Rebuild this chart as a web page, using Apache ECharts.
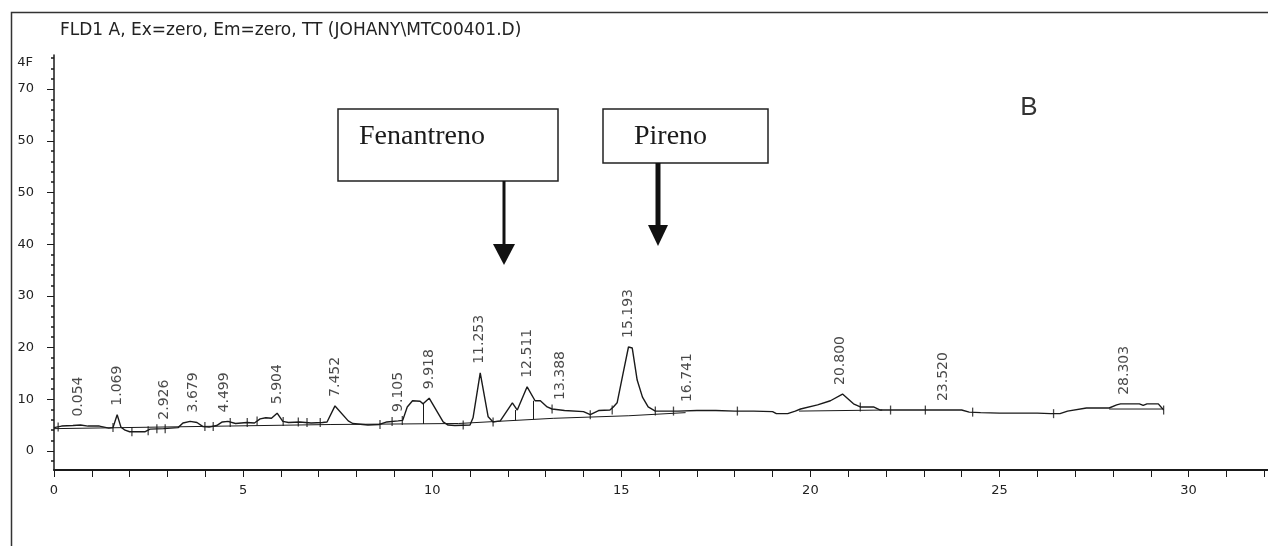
<!DOCTYPE html>
<html>
<head>
<meta charset="utf-8">
<script src="https://cdn.jsdelivr.net/npm/echarts@6/dist/echarts.min.js"></script>
<style>
html,body{margin:0;padding:0;background:#fff;}
#chart{width:1268px;height:546px;}
</style>
</head>
<body>
<div id="chart"></div>
<script>
// ---- data ----
const chartTitle = 'FLD1 A, Ex=zero, Em=zero, TT (JOHANY\\MTC00401.D)';
const yUnitLabel = '4F';
const panelLetter = 'B';
const annotationTexts = ['Fenantreno', 'Pireno'];

const xTickLabels = [0, 5, 10, 15, 20, 25, 30];
const xMinorTicks = [0,1,2,3,4,5,6,7,8,9,10,11,12,13,14,15,16,17,18,19,20,21,22,23,24,25,26,27,28,29,30,31,32];
const yTickValues = [0, 10, 20, 30, 40, 50, 60, 70];
const yTickLabels = ['0', '10', '20', '30', '40', '50', '50', '70'];
const yMinorTicks = [-2,2,4,6,8,12,14,16,18,22,24,26,28,32,34,36,38,42,44,46,48,52,54,56,58,62,64,66,68,72,74,76];

const traceTime = [0.0,0.2,0.5,0.7,0.9,1.2,1.45,1.56,1.67,1.77,1.88,2.0,2.4,2.54,2.9,3.28,3.41,3.6,3.78,3.94,
  4.1,4.3,4.45,4.6,4.8,5.1,5.3,5.45,5.6,5.75,5.9,6.05,6.2,6.5,6.8,7.1,7.22,7.43,7.78,7.9,
  8.3,8.6,8.8,9.1,9.22,9.34,9.48,9.68,9.76,9.92,10.29,10.42,10.6,11.0,11.08,11.27,11.48,11.61,11.8,12.12,
  12.25,12.51,12.72,12.86,13.04,13.17,13.5,14.0,14.18,14.4,14.7,14.79,14.89,15.05,15.19,15.29,15.42,15.56,15.71,15.9,
  16.5,17.0,17.5,18.0,18.5,19.0,19.1,19.4,19.6,19.74,20.19,20.53,20.85,21.14,21.32,21.67,21.85,22.5,23.0,23.5,
  24.0,24.2,24.5,25.0,25.5,26.0,26.35,26.6,26.8,27.3,27.9,28.1,28.2,28.7,28.8,28.9,29.2,29.34];
const traceSignal = [4.5,4.8,4.9,5.0,4.8,4.8,4.4,4.5,7.0,4.6,4.0,3.7,3.7,4.2,4.3,4.5,5.4,5.7,5.5,4.7,
  4.6,4.9,5.6,5.7,5.3,5.5,5.4,6.2,6.4,6.3,7.3,5.7,5.5,5.6,5.4,5.5,5.6,8.7,5.8,5.3,
  5.0,5.1,5.6,5.8,5.9,8.5,9.7,9.6,9.1,10.2,5.6,5.0,4.9,5.0,6.4,15.1,6.6,5.6,5.8,9.3,
  7.9,12.4,9.7,9.7,8.5,8.1,7.8,7.6,7.0,7.8,7.9,8.5,9.3,15.1,20.1,19.9,13.7,10.4,8.5,7.7,
  7.7,7.8,7.8,7.7,7.7,7.6,7.2,7.2,7.7,8.1,8.9,9.7,11.0,9.1,8.5,8.5,7.9,7.9,7.9,7.9,
  7.9,7.5,7.4,7.3,7.3,7.3,7.2,7.2,7.7,8.3,8.3,8.9,9.1,9.1,8.8,9.1,9.1,7.9];

// integration baseline segments [time, signal]
const baselineA = [[0.0,4.3],[7.3,5.1],[10.7,5.3],[13.2,6.3],[15.2,6.8],[16.7,7.4]];
const baselineB = [[19.7,7.7],[21.9,7.9]];
const baselineC = [[27.9,8.1],[29.3,8.1]];

// peak start/end tick marks [time, signal]
const peakMarks = [[0.11,4.6],[1.56,4.5],[2.06,3.7],[2.49,3.9],[2.72,4.3],[2.94,4.3],[3.99,4.7],[4.21,4.7],[4.66,5.5],
  [5.11,5.5],[5.37,5.8],[6.06,5.7],[6.46,5.6],[6.69,5.5],[7.04,5.5],[8.62,5.1],[8.94,5.7],[9.21,5.9],[10.82,5.0],
  [11.61,5.6],[13.17,8.1],[14.18,7.0],[14.76,7.9],[15.9,7.7],[16.38,7.7],[18.07,7.7],[21.32,8.5],[22.12,7.9],
  [23.04,7.9],[24.29,7.5],[26.43,7.2],[29.34,7.9]];
// valley drop lines [time, top, bottom]
const dropLines = [[9.76,9.1,5.2],[12.2,7.9,5.9],[12.67,9.7,6.1]];

const peakTimes = [0.654,1.669,2.926,3.679,4.499,5.904,7.452,9.105,9.918,11.253,12.511,13.388,15.193,16.741,20.800,23.520,28.303];
const peakHeights = [4.9,7.0,4.3,5.7,5.7,7.3,8.7,5.8,10.2,15.1,12.4,8.1,20.1,7.7,11.0,7.9,9.1];
const peakLabels = ['0.054','1.069','2.926','3.679','4.499','5.904','7.452','9.105','9.918','11.253','12.511','13.388','15.193','16.741','20.800','23.520','28.303'];

// ---- chart ----
const INK = '#1a1a1a';
const chart = echarts.init(document.getElementById('chart'), null, {renderer: 'canvas'});
const traceData = traceTime.map((t, i) => [t, traceSignal[i]]);
const labelData = peakTimes.map((t, i) => [t, peakHeights[i], peakLabels[i]]);

const X_MIN = 0, X_MAX = 32.1, Y_MIN = -3.7, Y_MAX = 76.6;

const option = {
  animation: false,
  backgroundColor: '#ffffff',
  grid: {left: 54, right: 0, top: 55, bottom: 76},
  xAxis: [{
    type: 'value', min: X_MIN, max: X_MAX, position: 'bottom',
    axisLine: {show: true, onZero: false, lineStyle: {color: INK, width: 2}},
    axisTick: {show: true, customValues: xMinorTicks, length: 7, lineStyle: {color: INK, width: 1}},
    axisLabel: {customValues: xTickLabels, margin: 14, color: '#222', fontSize: 13, fontFamily: 'DejaVu Sans'},
    splitLine: {show: false}
  }],
  yAxis: [{
    type: 'value', min: Y_MIN, max: Y_MAX,
    axisLine: {show: true, onZero: false, lineStyle: {color: INK, width: 1.5}},
    axisTick: {show: true, customValues: yTickValues, length: 7, lineStyle: {color: INK, width: 1}},
    axisLabel: {customValues: yTickValues, margin: 20, color: '#222', fontSize: 13, fontFamily: 'DejaVu Sans',
      formatter: v => yTickLabels[yTickValues.indexOf(v)]},
    splitLine: {show: false}
  }, {
    type: 'value', min: Y_MIN, max: Y_MAX, position: 'left', offset: 0,
    axisLine: {show: false, onZero: false},
    axisTick: {show: true, customValues: yMinorTicks, length: 3, lineStyle: {color: INK, width: 1.5}},
    axisLabel: {show: false},
    splitLine: {show: false}
  }],
  series: [
    {type: 'line', name: 'baselineA', data: baselineA, showSymbol: false, silent: true,
      lineStyle: {color: INK, width: 1}},
    {type: 'line', name: 'baselineB', data: baselineB, showSymbol: false, silent: true,
      lineStyle: {color: INK, width: 1}},
    {type: 'line', name: 'baselineC', data: baselineC, showSymbol: false, silent: true,
      lineStyle: {color: INK, width: 1}},
    {type: 'line', name: 'FLD1 A', data: traceData, showSymbol: false, silent: true,
      lineStyle: {color: INK, width: 1.4},
      markLine: {silent: true, symbol: ['none', 'none'], label: {show: false},
        lineStyle: {color: INK, width: 1, type: 'solid'},
        data: dropLines.map(d => [{coord: [d[0], d[1]]}, {coord: [d[0], d[2]]}])}
    },
    {type: 'scatter', name: 'marks', data: peakMarks, symbol: 'rect', symbolSize: [1.3, 9], silent: true,
      itemStyle: {color: INK}},
    {type: 'scatter', name: 'peaks', data: labelData, symbolSize: 0, silent: true,
      label: {show: true, position: 'top', distance: 9, rotate: 90, align: 'left', verticalAlign: 'middle',
        formatter: p => p.data[2], color: '#1a1a1a', fontSize: 14, fontFamily: 'DejaVu Sans'}}
  ],
  graphic: [
    {type: 'rect', left: 9, top: 10, silent: true,
      shape: {x: 0, y: 0, width: 1400, height: 700},
      style: {fill: 'none', stroke: '#333', lineWidth: 1.5}},
    {type: 'text', x: 60, y: 31, silent: true,
      style: {text: chartTitle, fill: '#222', font: '17px "DejaVu Sans"', textVerticalAlign: 'middle'}},
    {type: 'text', x: 33, y: 63, silent: true,
      style: {text: yUnitLabel, fill: '#222', font: '13px "DejaVu Sans"', textAlign: 'right', textVerticalAlign: 'middle'}},
    {type: 'text', x: 1029, y: 108, silent: true,
      style: {text: panelLetter, fill: '#333', font: '26px "Liberation Sans"', textAlign: 'center', textVerticalAlign: 'middle'}},
    // Fenantreno box + arrow
    {type: 'rect', silent: true, shape: {x: 338, y: 109, width: 220, height: 72},
      style: {fill: '#fff', stroke: '#222', lineWidth: 1.5}},
    {type: 'text', x: 359, y: 137, silent: true,
      style: {text: annotationTexts[0], fill: '#1a1a1a', font: '28px "Liberation Serif"', textVerticalAlign: 'middle'}},
    {type: 'line', silent: true, shape: {x1: 504, y1: 181, x2: 504, y2: 247}, style: {stroke: '#111', lineWidth: 3}},
    {type: 'polygon', silent: true, shape: {points: [[493, 244], [515, 244], [504, 265]]}, style: {fill: '#111'}},
    // Pireno box + arrow
    {type: 'rect', silent: true, shape: {x: 603, y: 109, width: 165, height: 54},
      style: {fill: '#fff', stroke: '#222', lineWidth: 1.5}},
    {type: 'text', x: 634, y: 137, silent: true,
      style: {text: annotationTexts[1], fill: '#1a1a1a', font: '28px "Liberation Serif"', textVerticalAlign: 'middle'}},
    {type: 'line', silent: true, shape: {x1: 658, y1: 163, x2: 658, y2: 228}, style: {stroke: '#111', lineWidth: 5}},
    {type: 'polygon', silent: true, shape: {points: [[648, 225], [668, 225], [658, 246]]}, style: {fill: '#111'}}
  ]
};
chart.setOption(option);
</script>
</body>
</html>
